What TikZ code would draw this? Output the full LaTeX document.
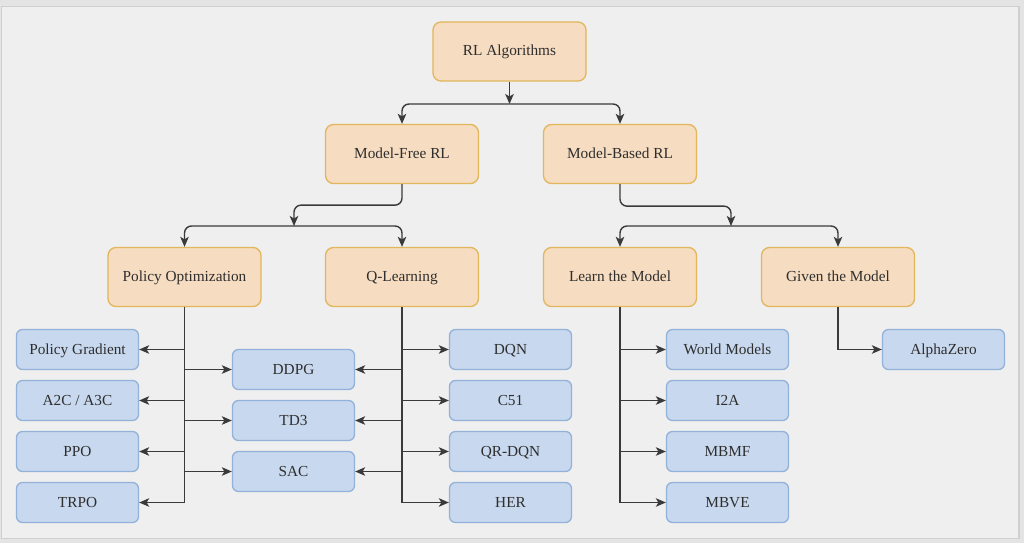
\documentclass[tikz,border=0pt]{standalone}
\usepackage{fontspec}
\setmainfont{Liberation Serif}
\usetikzlibrary{arrows.meta}
\definecolor{obg}{HTML}{E4E4E4}
\definecolor{ibg}{HTML}{EFEFEF}
\definecolor{frame}{HTML}{CFCFCF}
\definecolor{ofill}{HTML}{F6DCC0}
\definecolor{odraw}{HTML}{E2B65C}
\definecolor{bfill}{HTML}{C8D8EE}
\definecolor{bdraw}{HTML}{93B2DA}
\definecolor{txt}{HTML}{2E2E2E}
\definecolor{ln}{HTML}{3A3A3A}
\tikzset{
  obox/.style={draw=odraw, fill=ofill, line width=1.3pt, rounded corners=8pt,
    minimum width=153pt, minimum height=59pt, inner sep=0pt, text=txt,
    text height=10.5pt, text depth=1.5pt,
    font=\fontsize{15.3}{18}\selectfont},
  bbox/.style={draw=bdraw, fill=bfill, line width=1.3pt, rounded corners=6pt,
    minimum width=122pt, minimum height=40pt, inner sep=0pt, text=txt,
    text height=10.5pt, text depth=1.5pt,
    font=\fontsize{15.3}{18}\selectfont},
  arr/.style={draw=ln, line width=1.4pt, -{Stealth[length=10pt,width=8.5pt,inset=2.5pt]}},
  rarr/.style={arr, rounded corners=7pt}
}
\begin{document}
\begin{tikzpicture}[x=1pt,y=-1pt]
\useasboundingbox (0,0) rectangle (1024,543);
\fill[obg] (0,0) rectangle (1024,543);
\draw[frame, fill=ibg, line width=1.5pt] (1.5,6.5) rectangle (1019,538.5);

% level 0/1/2
\node[obox] (rl) at (509.5,51.5) {RL Algorithms};
\node[obox] (mf) at (402,154) {Model-Free RL};
\node[obox] (mb) at (620,154) {Model-Based RL};
\node[obox] (po) at (184.5,277) {Policy Optimization};
\node[obox] (ql) at (402,277) {Q-Learning};
\node[obox] (lm) at (620,277) {Learn the Model};
\node[obox] (gm) at (838,277) {Given the Model};

% leaves
\node[bbox] (pg) at (77.5,349.5) {Policy Gradient};
\node[bbox] (a2c) at (77.5,400.5) {A2C / A3C};
\node[bbox] (ppo) at (77.5,451.5) {PPO};
\node[bbox] (trpo) at (77.5,502.5) {TRPO};
\node[bbox] (ddpg) at (293.5,369.5) {DDPG};
\node[bbox] (td3) at (293.5,420.5) {TD3};
\node[bbox] (sac) at (293.5,471.5) {SAC};
\node[bbox] (dqn) at (510.5,349.5) {DQN};
\node[bbox] (c51) at (510.5,400.5) {C51};
\node[bbox] (qrdqn) at (510.5,451.5) {QR-DQN};
\node[bbox] (her) at (510.5,502.5) {HER};
\node[bbox] (wm) at (727.5,349.5) {World Models};
\node[bbox] (i2a) at (727.5,400.5) {I2A};
\node[bbox] (mbmf) at (727.5,451.5) {MBMF};
\node[bbox] (mbve) at (727.5,502.5) {MBVE};
\node[bbox] (az) at (943.5,349.5) {AlphaZero};

% junctions
\coordinate (j1) at (509.5,104);
\coordinate (j2) at (294,226);
\coordinate (j3) at (731,226);

% top connectors
\draw[arr] (rl.south) -- (j1);
\draw[rarr] (j1) -| (mf.north);
\draw[rarr] (j1) -| (mb.north);
\draw[rarr] (mf.south) -- ++(0,21) -| (j2);
\draw[rarr] (j2) -| (po.north);
\draw[rarr] (j2) -| (ql.north);
\draw[rarr] (mb.south) -- ++(0,22) -| (j3);
\draw[rarr] (j3) -| (lm.north);
\draw[rarr] (j3) -| (gm.north);

% policy optimization
\foreach \t in {pg,a2c,ppo,trpo} \draw[arr] (po.south) |- (\t.east);
\foreach \t in {ddpg,td3,sac} \draw[arr] (po.south) |- (\t.west);
% q-learning
\foreach \t in {dqn,c51,qrdqn,her} \draw[arr] (ql.south) |- (\t.west);
\foreach \t in {ddpg,td3,sac} \draw[arr] (ql.south) |- (\t.east);
% learn the model
\foreach \t in {wm,i2a,mbmf,mbve} \draw[arr] (lm.south) |- (\t.west);
% given the model
\draw[arr] (gm.south) |- (az.west);
\end{tikzpicture}
\end{document}
